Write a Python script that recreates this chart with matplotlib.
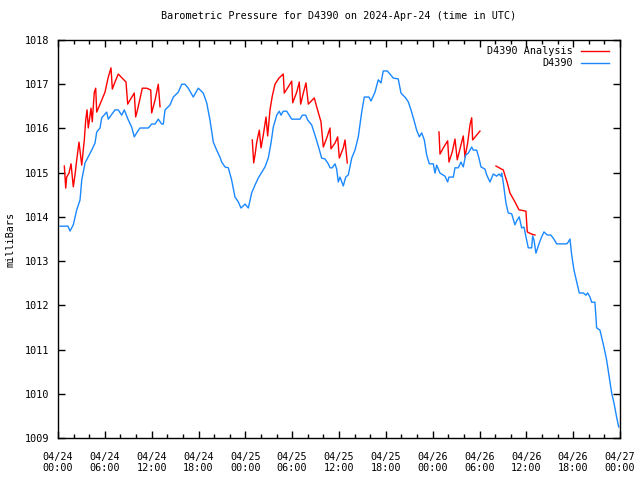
#!/usr/bin/env python3
# Barometric pressure for D4390, 2024-Apr-24 .. 04/27 (gnuplot-style look)
import numpy as np
import matplotlib
matplotlib.use('Agg')
import matplotlib.pyplot as plt
from matplotlib.ticker import MultipleLocator, FixedLocator

#------------------------------------------------------------------------------
# data: hours since 04/24 00:00 UTC, pressure in mb
#------------------------------------------------------------------------------
obs_hours = [0.26, 1.28, 1.54, 1.96, 2.40, 2.82, 3.04, 3.46, 3.84, 4.32, 4.74,
             4.96, 5.38, 5.60, 6.24, 6.44, 7.30, 7.72, 8.16, 8.49, 9.01, 9.44,
             9.77, 10.08, 10.50, 11.57, 12.00, 12.43, 12.85, 13.28, 13.49,
             13.71, 14.35, 14.77, 15.41, 15.85, 16.27, 16.69, 17.33, 17.97,
             18.61, 19.05, 19.47, 19.90, 20.33, 20.75, 20.97, 21.39, 21.82,
             22.25, 22.67, 23.10, 23.44, 23.96, 24.38, 24.81, 25.24, 25.66,
             26.10, 26.52, 26.94, 27.29, 27.58, 28.02, 28.35, 28.57, 28.86,
             29.30, 29.94, 31.00, 31.30, 31.73, 31.99, 32.50, 32.92, 33.35,
             33.78, 34.20, 34.63, 34.85, 35.14, 35.49, 35.70, 35.91, 36.13,
             36.55, 36.86, 37.19, 37.63, 38.05, 38.47, 38.91, 39.24, 39.84,
             40.10, 40.61, 41.03, 41.38, 41.67, 42.19, 42.95, 43.59, 43.94,
             44.54, 44.88, 45.22, 45.52, 45.95, 46.29, 46.59, 46.93, 47.23,
             47.57, 48.08, 48.30, 48.51, 48.94, 49.58, 49.92, 50.09, 50.64,
             50.86, 51.28, 51.63, 51.92, 52.23, 52.56, 53.00, 53.20, 53.64,
             53.93, 54.19, 54.70, 54.92, 55.34, 55.77, 56.20, 56.50, 56.75,
             56.84, 57.05, 57.39, 57.68, 58.12, 58.54, 58.76, 59.09, 59.40,
             59.70, 59.95, 60.25, 60.68, 60.81, 60.98, 61.23, 61.66, 61.97,
             62.26, 62.68, 63.12, 63.45, 63.89, 65.17, 65.37, 65.59, 65.81,
             66.10, 66.45, 66.78, 67.30, 67.64, 67.86, 68.15, 68.37, 68.79,
             69.01, 69.43, 69.65, 69.94, 70.29, 70.62, 70.93, 71.23, 71.57,
             71.83]
obs_mb = [1013.79, 1013.79, 1013.68, 1013.82, 1014.16, 1014.38, 1014.83,
          1015.22, 1015.35, 1015.51, 1015.67, 1015.92, 1016.01, 1016.24,
          1016.37, 1016.21, 1016.42, 1016.42, 1016.30, 1016.42, 1016.19,
          1016.03, 1015.81, 1015.90, 1016.01, 1016.01, 1016.10, 1016.10,
          1016.21, 1016.10, 1016.10, 1016.42, 1016.53, 1016.71, 1016.82,
          1017.00, 1017.00, 1016.91, 1016.71, 1016.91, 1016.80, 1016.58,
          1016.19, 1015.69, 1015.51, 1015.35, 1015.24, 1015.13, 1015.11,
          1014.83, 1014.45, 1014.34, 1014.20, 1014.29, 1014.20, 1014.54,
          1014.72, 1014.88, 1015.01, 1015.13, 1015.33, 1015.67, 1016.03,
          1016.30, 1016.39, 1016.30, 1016.39, 1016.39, 1016.21, 1016.21,
          1016.30, 1016.30, 1016.19, 1016.08, 1015.85, 1015.60, 1015.33,
          1015.31, 1015.20, 1015.11, 1015.11, 1015.20, 1015.08, 1014.79,
          1014.90, 1014.70, 1014.90, 1014.95, 1015.33, 1015.51, 1015.81,
          1016.37, 1016.71, 1016.71, 1016.62, 1016.82, 1017.10, 1017.03,
          1017.30, 1017.30, 1017.14, 1017.12, 1016.80, 1016.69, 1016.60,
          1016.42, 1016.24, 1015.96, 1015.81, 1015.90, 1015.74, 1015.40,
          1015.20, 1015.20, 1014.99, 1015.17, 1014.99, 1014.92, 1014.79,
          1014.90, 1014.90, 1015.11, 1015.11, 1015.24, 1015.13, 1015.40,
          1015.44, 1015.58, 1015.51, 1015.51, 1015.33, 1015.13, 1015.08,
          1014.95, 1014.79, 1014.97, 1014.92, 1014.97, 1014.92, 1014.99,
          1014.77, 1014.31, 1014.09, 1014.07, 1013.82, 1013.91, 1014.00,
          1013.75, 1013.77, 1013.55, 1013.30, 1013.30, 1013.57, 1013.48,
          1013.18, 1013.41, 1013.55, 1013.66, 1013.59, 1013.59, 1013.52,
          1013.39, 1013.39, 1013.43, 1013.50, 1013.14, 1012.80, 1012.53,
          1012.28, 1012.28, 1012.23, 1012.28, 1012.19, 1012.07, 1012.07,
          1011.49, 1011.44, 1011.28, 1011.06, 1010.76, 1010.38, 1010.02,
          1009.79, 1009.47, 1009.25]

# analysis runs (gaps between them)
ana1_hours = [0.81, 0.99, 1.11, 1.41, 1.67, 1.96, 2.18, 2.40, 2.69, 3.04, 3.37,
              3.55, 3.72, 3.88, 4.23, 4.39, 4.65, 4.83, 4.96, 5.60, 6.02, 6.44,
              6.79, 6.96, 7.30, 7.72, 8.71, 8.93, 9.22, 9.77, 9.95, 10.21,
              10.80, 11.36, 11.88, 12.00, 12.43, 12.85, 13.07]
ana1_mb = [1015.15, 1014.65, 1014.90, 1014.99, 1015.20, 1014.68, 1014.95,
           1015.29, 1015.69, 1015.17, 1015.74, 1016.19, 1016.42, 1016.01,
           1016.46, 1016.15, 1016.82, 1016.91, 1016.37, 1016.64, 1016.82,
           1017.16, 1017.37, 1016.89, 1017.05, 1017.23, 1017.05, 1016.55,
           1016.64, 1016.80, 1016.26, 1016.44, 1016.91, 1016.91, 1016.87,
           1016.35, 1016.64, 1017.00, 1016.49]
ana2_hours = [24.89, 25.07, 25.24, 25.46, 25.79, 26.01, 26.30, 26.65, 26.86,
              27.16, 27.45, 27.80, 28.31, 28.86, 28.99, 29.50, 29.94, 30.07,
              30.58, 30.91, 31.09, 31.43, 31.77, 32.07, 32.83, 33.14, 33.69,
              33.99, 34.42, 34.85, 34.97, 35.49, 35.83, 36.04, 36.55, 36.77,
              37.06]
ana2_mb = [1015.74, 1015.22, 1015.40, 1015.69, 1015.96, 1015.56, 1015.85,
           1016.26, 1015.83, 1016.42, 1016.73, 1017.00, 1017.14, 1017.23,
           1016.80, 1016.94, 1017.07, 1016.58, 1016.82, 1017.05, 1016.55,
           1016.80, 1017.03, 1016.55, 1016.69, 1016.49, 1016.15, 1015.58,
           1015.78, 1016.01, 1015.54, 1015.67, 1015.81, 1015.33, 1015.56,
           1015.74, 1015.22]
ana3_hours = [48.81, 48.94, 49.36, 49.92, 50.09, 50.51, 50.86, 51.15, 51.63,
              51.92, 52.14, 52.48, 52.78, 53.00, 53.12, 54.06]
ana3_mb = [1015.92, 1015.42, 1015.56, 1015.72, 1015.24, 1015.47, 1015.76,
           1015.29, 1015.63, 1015.83, 1015.35, 1015.67, 1016.08, 1016.24,
           1015.74, 1015.94]
ana4_hours = [56.11, 57.05, 57.56, 57.90, 58.54, 59.06, 59.95, 60.12, 60.68,
              61.11]
ana4_mb = [1015.15, 1015.06, 1014.77, 1014.54, 1014.34, 1014.16, 1014.13,
           1013.66, 1013.61, 1013.59]

tick_labels = ['04/24\n00:00', '04/24\n06:00', '04/24\n12:00', '04/24\n18:00',
               '04/25\n00:00', '04/25\n06:00', '04/25\n12:00', '04/25\n18:00',
               '04/26\n00:00', '04/26\n06:00', '04/26\n12:00', '04/26\n18:00',
               '04/27\n00:00']

#------------------------------------------------------------------------------
plt.rcParams['font.family'] = 'DejaVu Sans Mono'
plt.rcParams['font.size'] = 7.3

fig = plt.figure(figsize=(6.4, 4.8), dpi=100)
ax = fig.add_axes([58/640, 42/480, 562/640, 398/480])

red = '#ff0000'
blue = '#1a88ff'
ana_h = ana1_hours + [np.nan] + ana2_hours + [np.nan] + ana3_hours + [np.nan] + ana4_hours
ana_p = ana1_mb + [np.nan] + ana2_mb + [np.nan] + ana3_mb + [np.nan] + ana4_mb
ax.plot(ana_h, ana_p, color=red, lw=1, label='D4390 Analysis')
ax.plot(obs_hours, obs_mb, color=blue, lw=1, label='D4390')

ax.set_xlim(0, 72)
ax.set_ylim(1009, 1018)
ax.xaxis.set_major_locator(FixedLocator(np.arange(0, 73, 6)))
ax.set_xticklabels(tick_labels)
ax.xaxis.set_minor_locator(MultipleLocator(2))
ax.yaxis.set_major_locator(MultipleLocator(1))
ax.yaxis.set_major_formatter(plt.FormatStrFormatter('%d'))
ax.tick_params(which='both', direction='in', top=True, right=True,
               width=1, color='black', labelsize=7.3)
ax.tick_params(which='major', length=5)
ax.tick_params(which='minor', length=3)
ax.tick_params(axis='x', which='major', pad=10)
ax.tick_params(axis='y', which='major', pad=6)
for s in ax.spines.values():
    s.set_linewidth(1)

ax.set_ylabel('milliBars', labelpad=7)
ax.set_title('Barometric Pressure for D4390 on 2024-Apr-24 (time in UTC)',
             fontsize=7.3, pad=15)

ax.legend(loc='upper right', bbox_to_anchor=(0.992, 1.0), frameon=False,
          markerfirst=False, handlelength=2.8, handletextpad=0.8,
          borderaxespad=0.2, labelspacing=0.2, fontsize=7.3)

fig.savefig('out.png', dpi=100)
